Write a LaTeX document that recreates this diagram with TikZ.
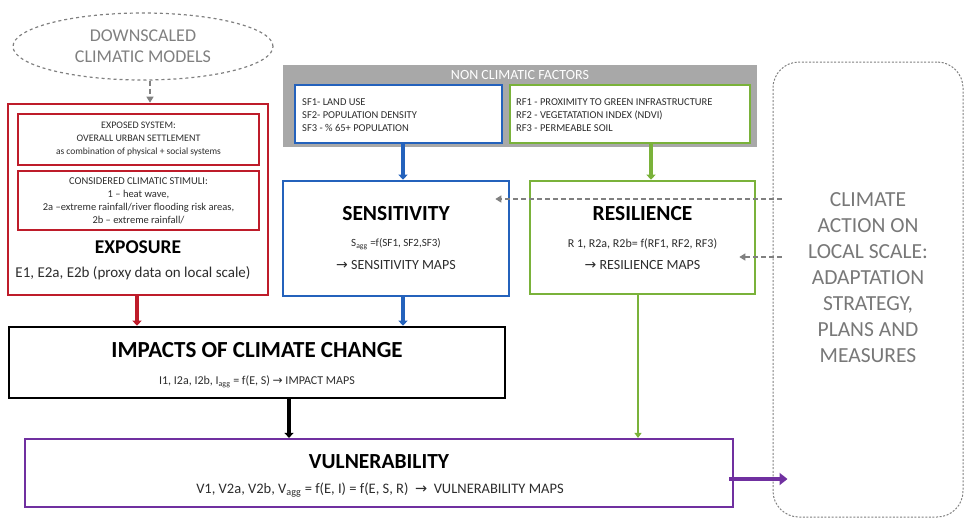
\documentclass[tikz,border=0pt]{standalone}
\usepackage{fontspec}
\setmainfont{Carlito}
\newfontfamily\arrowfont{DejaVu Sans}
\usetikzlibrary{arrows.meta,calc,shapes.geometric}
\definecolor{cred}{RGB}{190,28,42}
\definecolor{cblue}{RGB}{36,98,188}
\definecolor{cgreen}{RGB}{122,178,58}
\definecolor{cpurple}{RGB}{112,48,160}
\definecolor{cgreybox}{RGB}{168,168,168}
\definecolor{cdash}{RGB}{128,128,128}
\definecolor{ctxt}{RGB}{45,45,45}
\definecolor{cclim}{RGB}{120,120,120}
\newcommand{\rarr}{{\arrowfont\char"2192}}
\newcommand{\fs}[2]{\fontsize{#1}{#2}\selectfont}
\begin{document}
\begin{tikzpicture}[x=1pt,y=-1pt,
  box/.style={draw, line width=2.6pt, inner sep=0pt, fill=white},
  small/.style={font=\fs{10}{13}, text=ctxt, align=center, inner sep=0pt},
  smallleft/.style={font=\fs{10.5}{13}, text=ctxt, align=left, inner sep=0pt, anchor=west},
  body/.style={font=\fs{11.5}{14}, text=ctxt, align=center, inner sep=0pt},
  ttl/.style={font=\fs{21.5}{24}\bfseries, text=black, inner sep=0pt},
  thickarrow/.style={line width=3.5pt, -{Triangle[length=5pt,width=9pt]}},
  dasharrow/.style={draw=cdash, line width=1.2pt, dash pattern=on 5pt off 3pt, -{Triangle[length=6pt,width=7pt]}}
]
\useasboundingbox (0,0) rectangle (968,520);

% downscaled models
\node[draw=cdash, line width=1.2pt, dash pattern=on 3pt off 3pt, ellipse, minimum width=260pt, minimum height=67pt, inner sep=0pt,
      text=cdash, align=center, font=\fs{18}{21}] (ell) at (143,46.5) {DOWNSCALED\\CLIMATIC MODELS};

% exposure
\node[box, draw=cred, minimum width=260pt, minimum height=191pt] (expo) at (138,199.5) {};
\node[box, draw=cred, minimum width=241pt, minimum height=51pt, small] (exin1) at (138.5,139.5)
  {EXPOSED SYSTEM:\\OVERALL URBAN SETTLEMENT\\{\fs{9.5}{13}as combination of physical + social systems}};
\node[box, draw=cred, minimum width=241pt, minimum height=59pt, small, font=\fs{10.5}{13}] (exin2) at (138.5,200.5)
  {CONSIDERED CLIMATIC STIMULI:\\1 -- heat wave,\\2a --extreme rainfall/river flooding risk areas,\\2b -- extreme rainfall/};
\node[ttl, font=\fs{19.5}{22}\bfseries] (expot) at (138,247) {EXPOSURE};
\node[body, font=\fs{15}{18}] (expos) at (133,273) {E1, E2a, E2b (proxy data on local scale)};

% non climatic factors
\node[fill=cgreybox, minimum width=474pt, minimum height=82pt, inner sep=0pt] (ncf) at (520,106) {};
\node[text=white, font=\fs{14}{16}, inner sep=0pt] (ncft) at (520,75) {NON CLIMATIC FACTORS};
\node[box, draw=cblue, minimum width=207pt, minimum height=58pt] (sf) at (398.5,114) {};
\node[smallleft] (sft) at (302,115) {SF1- LAND USE\\SF2- POPULATION DENSITY\\SF3 - \% 65+ POPULATION};
\node[box, draw=cgreen, minimum width=240pt, minimum height=58pt] (rf) at (630,114) {};
\node[smallleft] (rft) at (516,115) {RF1 - PROXIMITY TO GREEN INFRASTRUCTURE\\RF2 - VEGETATATION INDEX (NDVI)\\RF3 - PERMEABLE SOIL};

% sensitivity & resilience
\node[box, draw=cblue, minimum width=226pt, minimum height=115pt] (sens) at (396,238.5) {};
\node[ttl] (senst) at (396,214) {SENSITIVITY};
\node[body, font=\fs{11}{14}] (sensf) at (396,244) {S\textsubscript{agg} =f(SF1, SF2,SF3)};
\node[body, font=\fs{14}{16}] (sensm) at (396,265) {\rarr\ SENSITIVITY MAPS};
\node[box, draw=cgreen, minimum width=225pt, minimum height=113pt] (res) at (642.5,237.5) {};
\node[ttl] (rest) at (642.5,214) {RESILIENCE};
\node[body, font=\fs{12}{14}] (resf) at (642.5,244) {R 1, R2a, R2b= f(RF1, RF2, RF3)};
\node[body, font=\fs{14}{16}] (resm) at (642.5,265) {\rarr\ RESILIENCE MAPS};

% impacts
\node[box, draw=black, minimum width=496pt, minimum height=71pt] (imp) at (257,362.5) {};
\node[ttl, font=\fs{23}{26}\bfseries] (impt) at (257,350) {IMPACTS OF CLIMATE CHANGE};
\node[body, font=\fs{12}{14}] (impf) at (257,382) {I1, I2a, I2b, I\textsubscript{agg} = f(E, S) \rarr\ IMPACT MAPS};

% vulnerability
\node[box, draw=cpurple, line width=2.2pt, minimum width=708pt, minimum height=68pt] (vul) at (379,473) {};
\node[ttl] (vult) at (379,462) {VULNERABILITY};
\node[body, font=\fs{14.5}{16}] (vulf) at (380,490) {V1, V2a, V2b, V\textsubscript{agg} = f(E, I) = f(E, S, R) \ \rarr\ \ VULNERABILITY MAPS};

% climate action
\node[draw=cdash, line width=1pt, dash pattern=on 2pt off 1.6pt, rounded corners=26pt, minimum width=190pt, minimum height=455pt, inner sep=0pt] (clim) at (868,289.5) {};
\node[text=cclim, font=\fs{21.5}{26}, align=center, inner sep=0pt] (climt) at (868,278)
  {CLIMATE\\ACTION ON\\LOCAL SCALE:\\ADAPTATION\\STRATEGY,\\PLANS AND\\MEASURES};

% connectors
\draw[dasharrow] (150,0 |- ell.south) -- (150,0 |- expo.north);
\draw[thickarrow, draw=cred] (137,0 |- expo.south) -- (137,0 |- imp.north);
\draw[thickarrow, draw=cblue] (403,0 |- sf.south) -- (403,0 |- sens.north);
\draw[thickarrow, draw=cblue] (403,0 |- sens.south) -- (403,0 |- imp.north);
\draw[thickarrow, draw=cgreen] (651,0 |- rf.south) -- (651,0 |- res.north);
\draw[line width=2.6pt, draw=cgreen, -{Triangle[length=5pt,width=7pt]}] (638,0 |- res.south) -- (638,0 |- vul.north);
\draw[thickarrow, draw=black] (289,0 |- imp.south) -- (289,0 |- vul.north);
\draw[line width=4.5pt, draw=cpurple, -{Triangle[length=8pt,width=12pt]}] ($(vul.east |- 0,479)+(-5,0)$) -- ($(clim.west |- 0,479)+(15,0)$);
\draw[dasharrow] ($(clim.west |- 0,199)+(9,0)$) -- ($(sens.east |- 0,199)+(-15,0)$);
\draw[dasharrow] ($(clim.west |- 0,257)+(9,0)$) -- ($(res.east |- 0,257)+(-17,0)$);
\end{tikzpicture}
\end{document}
